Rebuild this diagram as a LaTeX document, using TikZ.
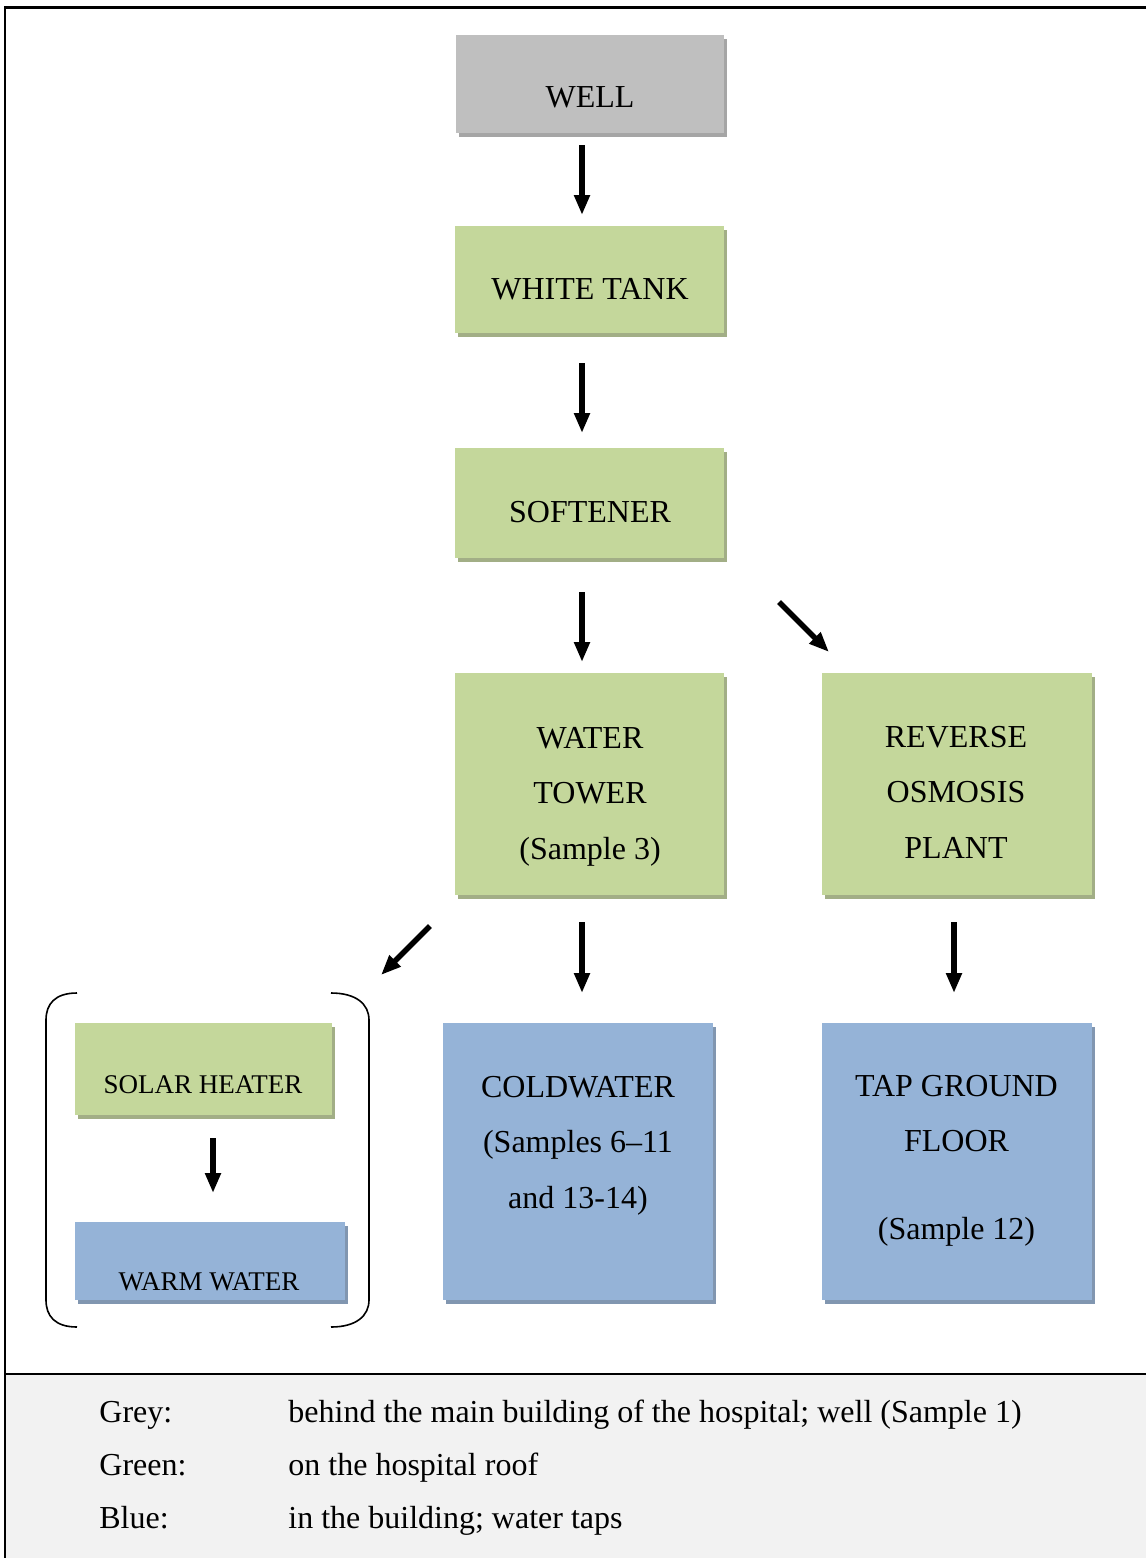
\documentclass[tikz,border=0pt]{standalone}
\usepackage{fontspec}
\setmainfont{Liberation Serif}
\usetikzlibrary{arrows.meta,shadows}
\definecolor{wellgrey}{HTML}{BFBFBF}
\definecolor{wellshade}{HTML}{A5A5A5}
\definecolor{roofgreen}{HTML}{C4D79B}
\definecolor{roofshade}{HTML}{A2AE86}
\definecolor{tapblue}{HTML}{95B3D7}
\definecolor{tapshade}{HTML}{8196B0}
\definecolor{legendgrey}{HTML}{F2F2F2}

\begin{document}
\begin{tikzpicture}[x=0.5pt,y=-0.5pt,
  box/.style={rectangle,inner sep=0pt,outer sep=0pt},
  greybox/.style={box,fill=wellgrey,general shadow={fill=wellshade,shadow xshift=1.5pt,shadow yshift=-2pt}},
  greenbox/.style={box,fill=roofgreen,general shadow={fill=roofshade,shadow xshift=1.5pt,shadow yshift=-2pt}},
  bluebox/.style={box,fill=tapblue,general shadow={fill=tapshade,shadow xshift=1.5pt,shadow yshift=-2pt}},
  lbl/.style={anchor=base,align=center,inner sep=0pt,font=\fontsize{16}{27.75}\selectfont},
  small/.style={anchor=base,inner sep=0pt,font=\fontsize{13.5}{16}\selectfont},
  key/.style={anchor=base west,inner sep=0pt,font=\fontsize{16}{20}\selectfont},
  flow/.style={line width=2.75pt,-{Triangle[width=7.5pt,length=10pt]}},
  brk/.style={line width=0.8pt}]
\useasboundingbox (0,0) rectangle (1146,1558);

% frame and legend
\fill[legendgrey] (5,1374) rectangle (1146,1558);
\draw[line width=1.2pt] (1146,7.5) -- (5,7.5) -- (5,1558);
\draw[line width=1pt] (5,1374) -- (1146,1374);

% boxes
\node[greybox,minimum width=134pt,minimum height=49pt] (well) at (590,84) {};
\node[greenbox,minimum width=134.5pt,minimum height=53.5pt] (tank) at (589.5,279.5) {};
\node[greenbox,minimum width=134.5pt,minimum height=55pt] (soft) at (589.5,503) {};
\node[greenbox,minimum width=134.5pt,minimum height=111pt] (tower) at (589.5,784) {};
\node[greenbox,minimum width=135pt,minimum height=111pt] (osmo) at (957,784) {};
\node[greenbox,minimum width=128.5pt,minimum height=46pt] (solar) at (203.5,1069) {};
\node[bluebox,minimum width=135pt,minimum height=39pt] (warm) at (210,1261) {};
\node[bluebox,minimum width=135pt,minimum height=138.5pt] (cold) at (578,1161.5) {};
\node[bluebox,minimum width=135pt,minimum height=138.5pt] (tapgf) at (957,1161.5) {};
\node[box,minimum width=161.5pt,minimum height=167pt] (grp) at (207.5,1160) {};

% texts (base = last line)
\node[lbl] (welltxt) at (590,107) {WELL};
\node[lbl] (tanktxt) at (590,299) {WHITE TANK};
\node[lbl] (softtxt) at (590,522) {SOFTENER};
\node[lbl] (towertxt) at (590,859) {WATER\\TOWER\\(Sample 3)};
\node[lbl] (osmotxt) at (956,858) {REVERSE\\OSMOSIS\\PLANT};
\node[lbl] (coldtxt) at (578,1208) {COLDWATER\\(Samples 6–11\\and 13-14)};
\node[lbl] (tapgftxt) at (956.5,1239) {TAP GROUND\\FLOOR\\[16pt](Sample 12)};
\node[small] (solartxt) at (203,1093) {SOLAR HEATER};
\node[small] (warmtxt) at (209,1290) {WARM WATER};

% bracket round the solar heater
\draw[brk] (grp.north west) ++(31,0) .. controls +(-22,0) and +(0,-16) .. ++(-31,27)
  -- ++(0,280) .. controls +(0,16) and +(-22,0) .. ++(31,27);
\draw[brk] (grp.north east) ++(-38,0) .. controls +(25,0) and +(0,-16) .. ++(38,27)
  -- ++(0,280) .. controls +(0,16) and +(25,0) .. ++(-38,27);

% arrows
\draw[flow,shorten <=6pt,shorten >=5.5pt] ([xshift=-4pt]well.south) -- ([xshift=-4pt]well.south |- tank.north);
\draw[flow,shorten <=15pt,shorten >=7.5pt] ([xshift=-3.75pt]tank.south) -- ([xshift=-3.75pt]tank.south |- soft.north);
\draw[flow,shorten <=17pt,shorten >=5.5pt] ([xshift=-3.75pt]soft.south) -- ([xshift=-3.75pt]soft.south |- tower.north);
\draw[flow] ([shift={(55,44)}]soft.south east) -- ([shift={(7,-21)}]osmo.north west);
\draw[flow,shorten <=13.5pt,shorten >=15pt] ([xshift=-3.75pt]tower.south) -- ([xshift=-3.75pt]tower.south |- cold.north);
\draw[flow,shorten <=13.5pt,shorten >=15pt] ([xshift=-1.5pt]osmo.south) -- ([xshift=-1.5pt]osmo.south |- tapgf.north);
\draw[flow] ([shift={(-25,31)}]tower.south west) -- ([shift={(12,-18)}]grp.north east);
\draw[flow,shorten <=11.5pt,shorten >=14.5pt] ([xshift=4.75pt]solar.south) -- ([xshift=4.75pt]solar.south |- warm.north);

% legend
\node[key] (kgrey) at (99,1422) {Grey:};
\node[key] (kgreen) at (99,1475) {Green:};
\node[key] (kblue) at (99,1528) {Blue:};
\node[key] (dgrey) at (288,1422) {behind the main building of the hospital; well (Sample 1)};
\node[key] (dgreen) at (288,1475) {on the hospital roof};
\node[key] (dblue) at (288,1528) {in the building; water taps};
\end{tikzpicture}
\end{document}
